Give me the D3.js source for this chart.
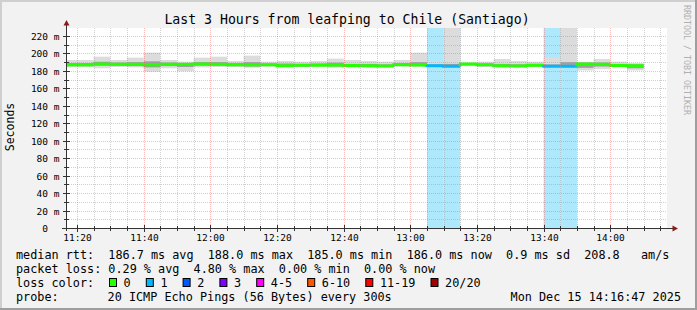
<!DOCTYPE html>
<html><head><meta charset="utf-8">
<script src="https://cdn.jsdelivr.net/npm/d3@7"></script>
<style>
html,body{margin:0;padding:0;background:#f2f2f2;}
svg{display:block;}
text{font-family:"DejaVu Sans Mono",monospace;fill:#000;}
</style>
</head><body>
<svg id="chart" width="697" height="310"></svg>
<script>
// ---- data ----
const binEnd = ["11:20","11:25","11:30","11:35","11:40","11:45","11:50","11:55","12:00","12:05","12:10","12:15","12:20","12:25","12:30","12:35","12:40","12:45","12:50","12:55","13:00","13:05","13:10","13:15","13:20","13:25","13:30","13:35","13:40","13:45","13:50","13:55","14:00","14:05","14:10"];
const medianMs = [187,187,188,187.7,187.5,187,187.5,187.5,188,187.5,187,187,187,186,186.5,186.5,186.8,186.2,185.8,185.5,187.2,186.8,186,185.3,187.8,187,185.8,185.5,186.4,185.3,185.3,188,187.5,186.3,186];
const maxMs = [192.5,192.5,196.3,192.5,195.2,200.9,192.5,190.6,195.2,196.3,191.4,197.5,190.6,191.4,190.6,191.4,194,192.5,191.4,190.6,192.5,200.9,190.6,260,189.5,190.6,193.6,191.4,190.6,195.2,260,189.5,193.6,190.6,189];
const minMs = [184,184,183,184.5,184,179,183,179.5,184,184.5,184.5,183.5,185,184.5,184.5,185,183.5,184,184,184,185,185,184.5,184,185.5,184.5,184,184,184.5,184,184.5,180.5,182,184.5,180.5];
const upperMs = [189,189,190.5,189.5,190,191,189.5,189,190,190,189,190,188.5,188.5,188,188.5,189.5,188,188,187.5,189,190,187.5,188,189,188.5,188,187.5,188,187.5,190,189.5,189.5,188,187.5];
const lowerMs = [185.5,185.5,186,186,185.5,184,185.5,184.5,186,186,185.5,185,185.5,185,185,185.5,185,185,184.5,184.5,186,185.5,185,184.8,186.5,185.5,184.5,184.5,185,184.5,184.8,183.5,185,185,183];
const lossCount = [0,0,0,0,0,0,0,0,0,0,0,0,0,0,0,0,0,0,0,0,0,0,1,1,0,0,0,0,0,1,1,0,0,0,0];

const yTicks = [0,20,40,60,80,100,120,140,160,180,200,220];
const xTickLabels = ["11:20","11:40","12:00","12:20","12:40","13:00","13:20","13:40","14:00"];
const lossLabels = ["0","1","2","3","4-5","6-10","11-19","20/20"];
const lossColors = ["#26ff00","#00b8ff","#0059ff","#7e00ff","#ff00f5","#ff5500","#ff0000","#a10000"];
const lossBgColors = ["none","#ade8fd","#b0cdff","#d4b3ff","#ffb3fc","#ffccb3","#ffb3b3","#e3b3b3"];
const rttStats = "median rtt:  186.7 ms avg  188.0 ms max  185.0 ms min  186.0 ms now  0.9 ms sd  208.8   am/s";
const lossStats = "packet loss: 0.29 % avg  4.80 % max  0.00 % min  0.00 % now";
const probeText = "20 ICMP Echo Pings (56 Bytes) every 300s";
const stampText = "Mon Dec 15 14:16:47 2025";
const titleText = "Last 3 Hours from leafping to Chile (Santiago)";

// ---- layout ----
const W = 697, H = 310;
const L = 67, R = 667, T = 28, B = 228;
const parse = d3.timeParse("%H:%M");
const x = d3.scaleTime().domain([parse("11:17"), parse("14:17")]).range([L, R]);
const y = d3.scaleLinear().domain([0, 220 * 200 / 192]).range([B, T]).clamp(true);

const svg = d3.select("#chart");
svg.append("rect").attr("width", W).attr("height", H).attr("fill", "#f2f2f2");
svg.append("rect").attr("x", 0).attr("y", 0).attr("width", W).attr("height", 2).attr("fill", "#cfcfcf");
svg.append("rect").attr("x", 0).attr("y", 0).attr("width", 2).attr("height", H).attr("fill", "#cfcfcf");
svg.append("rect").attr("x", 0).attr("y", H - 2).attr("width", W).attr("height", 2).attr("fill", "#9e9e9e");
svg.append("rect").attr("x", W - 2).attr("y", 0).attr("width", 2).attr("height", H).attr("fill", "#9e9e9e");

svg.append("rect").attr("x", L).attr("y", T).attr("width", R - L).attr("height", B - T).attr("fill", "#ffffff");
svg.append("clipPath").attr("id", "clip").append("rect").attr("x", L).attr("y", T).attr("width", R - L).attr("height", B - T);
const plot = svg.append("g").attr("clip-path", "url(#clip)");

const bins = binEnd.map((t, i) => {
  const end = parse(t);
  return {start: d3.timeMinute.offset(end, -5), end, i};
});

plot.selectAll("rect.lossbg").data(bins.filter(b => lossCount[b.i] > 0)).join("rect")
  .attr("class", "lossbg")
  .attr("x", b => x(b.start)).attr("width", b => x(b.end) - x(b.start))
  .attr("y", T).attr("height", B - T)
  .attr("fill", b => lossBgColors[lossCount[b.i]]);

plot.selectAll("rect.smoke1").data(bins).join("rect")
  .attr("class", "smoke1")
  .attr("x", b => x(b.start)).attr("width", b => x(b.end) - x(b.start))
  .attr("y", b => y(maxMs[b.i])).attr("height", b => y(minMs[b.i]) - y(maxMs[b.i]))
  .attr("fill", "#dcdcdc");
plot.selectAll("rect.smoke2").data(bins).join("rect")
  .attr("class", "smoke2")
  .attr("x", b => x(b.start)).attr("width", b => x(b.end) - x(b.start))
  .attr("y", b => y(upperMs[b.i])).attr("height", b => y(lowerMs[b.i]) - y(upperMs[b.i]))
  .attr("fill", "#a0a0a0");

const gridG = svg.append("g");
const minorCol = "rgba(150,150,150,0.45)", majorCol = "rgba(245,90,90,0.42)";
const minorY = d3.range(10, 230, 10).filter(v => v % 20 !== 0);
gridG.selectAll("line.hmin").data(minorY).join("line")
  .attr("x1", L).attr("x2", R).attr("y1", v => Math.round(y(v)) + 0.5).attr("y2", v => Math.round(y(v)) + 0.5)
  .attr("stroke", minorCol).attr("stroke-dasharray", "1,1");
gridG.selectAll("line.hmaj").data(yTicks.filter(v => v > 0)).join("line")
  .attr("x1", L).attr("x2", R).attr("y1", v => Math.round(y(v)) + 0.5).attr("y2", v => Math.round(y(v)) + 0.5)
  .attr("stroke", majorCol).attr("stroke-dasharray", "1,1");
const xMinor = d3.timeMinute.every(5).range(parse("11:17"), parse("14:17"));
const majorSet = new Set(xTickLabels);
const fmt = d3.timeFormat("%H:%M");
gridG.selectAll("line.vgrid").data(xMinor).join("line")
  .attr("x1", d => Math.round(x(d)) + 0.5).attr("x2", d => Math.round(x(d)) + 0.5)
  .attr("y1", T).attr("y2", B)
  .attr("stroke", d => majorSet.has(fmt(d)) ? majorCol : minorCol)
  .attr("stroke-dasharray", "1,1");

plot.selectAll("path.med").data(bins).join("path")
  .attr("class", "med")
  .attr("d", b => {
    const x0 = x(b.start), x1 = x(b.end), yc = y(medianMs[b.i]);
    if (b.i === 0) return `M${x0},${yc}H${x1}`;
    return `M${x0},${y(medianMs[b.i - 1])}V${yc}H${x1}`;
  })
  .attr("fill", "none")
  .attr("stroke", b => lossColors[lossCount[b.i]])
  .attr("stroke-width", 3);

const axisG = svg.append("g");
axisG.append("line").attr("x1", L - 0.5).attr("x2", L - 0.5).attr("y1", B + 3).attr("y2", 24).attr("stroke", "#333");
axisG.append("line").attr("x1", L - 5).attr("x2", R + 6).attr("y1", B + 0.5).attr("y2", B + 0.5).attr("stroke", "#333");
axisG.append("path").attr("d", `M${L - 0.5},20 L${L - 3.5},25.5 L${L + 2.5},25.5 Z`).attr("fill", "#8b1a1a");
axisG.append("path").attr("d", `M${R + 11},${B + 0.5} L${R + 5.5},${B - 2.5} L${R + 5.5},${B + 3.5} Z`).attr("fill", "#8b1a1a");
axisG.selectAll("line.ytk").data(d3.range(10, 230, 10)).join("line")
  .attr("x1", v => v % 20 === 0 ? L - 4 : L - 3).attr("x2", v => v % 20 === 0 ? L + 3 : L + 2)
  .attr("y1", v => Math.round(y(v)) + 0.5).attr("y2", v => Math.round(y(v)) + 0.5)
  .attr("stroke", "#333");
axisG.selectAll("line.xtk").data(xMinor).join("line")
  .attr("x1", d => Math.round(x(d)) + 0.5).attr("x2", d => Math.round(x(d)) + 0.5)
  .attr("y1", d => majorSet.has(fmt(d)) ? B - 3 : B - 2).attr("y2", d => majorSet.has(fmt(d)) ? B + 4 : B + 3)
  .attr("stroke", "#333");

svg.selectAll("text.ylab").data(yTicks).join("text")
  .attr("x", v => v === 0 ? 59.5 - 2 * 5.72 : 59.5)
  .attr("y", v => Math.round(y(v)) + 3.5)
  .attr("text-anchor", "end").attr("font-size", "9.5px")
  .text(v => v === 0 ? "0" : v + " m");
svg.selectAll("text.xlab").data(xTickLabels).join("text")
  .attr("x", t => Math.round(x(parse(t))) + 0.5)
  .attr("y", 241)
  .attr("text-anchor", "middle").attr("font-size", "9.5px")
  .text(t => t);

svg.append("text").attr("x", 347).attr("y", 24).attr("text-anchor", "middle").attr("font-size", "13.2px").text(titleText);
svg.append("text").attr("transform", "translate(14,127) rotate(-90)").attr("text-anchor", "middle").attr("font-size", "11.5px").text("Seconds");
svg.append("text").attr("transform", "translate(684,5) rotate(90)").attr("font-size", "8.3px").style("fill", "#b0b0b0").text("RRDTOOL / TOBI OETIKER");

const lg = svg.append("g").attr("font-size", "11.8px");
const cw = 7.1;
lg.append("text").attr("x", 16).attr("y", 258.5).attr("xml:space", "preserve").style("white-space", "pre").text(rttStats);
lg.append("text").attr("x", 16).attr("y", 272.5).attr("xml:space", "preserve").style("white-space", "pre").text(lossStats);
lg.append("text").attr("x", 16).attr("y", 286.5).text("loss color:");
let px = 109;
lossLabels.forEach((lab, k) => {
  lg.append("rect").attr("x", px + 0.5).attr("y", 278.5).attr("width", 7).attr("height", 8)
    .attr("fill", lossColors[k]).attr("stroke", "#000").attr("stroke-width", 1);
  lg.append("text").attr("x", px + 14.6).attr("y", 286.5).text(lab);
  px += 15.5 + (lab.length + 2) * cw;
});
lg.append("text").attr("x", 16).attr("y", 300.5).text("probe:");
lg.append("text").attr("x", 107.6).attr("y", 300.5).text(probeText);
lg.append("text").attr("x", 681).attr("y", 300.5).attr("text-anchor", "end").text(stampText);
</script>
</body></html>
